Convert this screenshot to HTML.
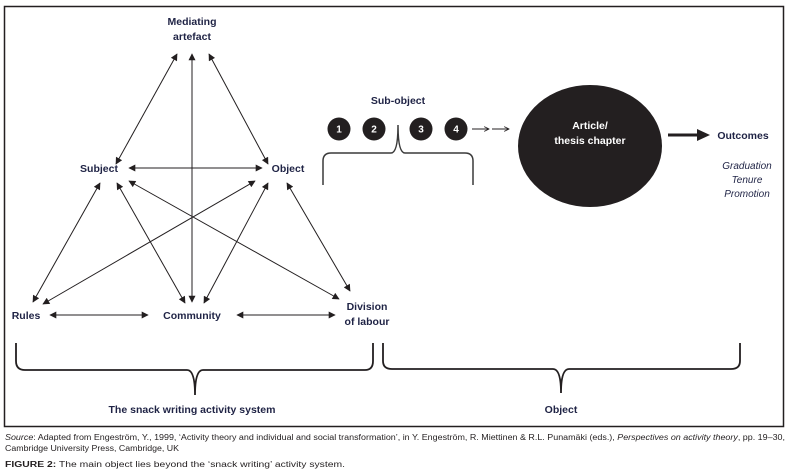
<!DOCTYPE html>
<html><head><meta charset="utf-8"><style>
html,body{margin:0;padding:0;background:#fff;}
svg{display:block;}
.l{font-family:"Liberation Sans",sans-serif;font-weight:bold;font-size:10.5px;fill:#1f2345;}
.c{font-family:"Liberation Sans",sans-serif;font-size:8px;fill:#231f20;}
</style></head><body>
<svg width="793" height="476" viewBox="0 0 793 476" xmlns="http://www.w3.org/2000/svg">
<defs>
<marker id="a" viewBox="0 0 10 10" refX="9" refY="5" markerWidth="8" markerHeight="7" markerUnits="userSpaceOnUse" orient="auto-start-reverse">
<path d="M0,0 L10,5 L0,10 z" fill="#231f20"/>
</marker>
<marker id="o" viewBox="0 0 10 10" refX="9" refY="5" markerWidth="6" markerHeight="6" markerUnits="userSpaceOnUse" orient="auto">
<path d="M1,1 L9,5 L1,9" fill="none" stroke="#231f20" stroke-width="1.4"/>
</marker>
</defs>
<rect x="4.5" y="6.5" width="779" height="420" fill="none" stroke="#231f20" stroke-width="1.5"/>

<g stroke="#231f20" stroke-width="1" fill="none" marker-start="url(#a)" marker-end="url(#a)">
<line x1="177" y1="54" x2="116" y2="164"/>
<line x1="192" y1="54" x2="192" y2="302"/>
<line x1="209" y1="54" x2="268" y2="164"/>
<line x1="129" y1="168" x2="262" y2="168"/>
<line x1="33" y1="302" x2="100" y2="183"/>
<line x1="43" y1="304" x2="255" y2="181"/>
<line x1="185" y1="303" x2="117" y2="183"/>
<line x1="204" y1="303" x2="268" y2="183"/>
<line x1="339" y1="299" x2="129" y2="181"/>
<line x1="350" y1="291" x2="287" y2="183"/>
<line x1="50" y1="315" x2="148" y2="315"/>
<line x1="237" y1="315" x2="335" y2="315"/>
</g>

<text class="l" x="192" y="25" text-anchor="middle">Mediating</text>
<text class="l" x="192" y="40" text-anchor="middle">artefact</text>
<text class="l" x="99" y="172" text-anchor="middle">Subject</text>
<text class="l" x="288" y="172" text-anchor="middle">Object</text>
<text class="l" x="26" y="319" text-anchor="middle">Rules</text>
<text class="l" x="192" y="319" text-anchor="middle">Community</text>
<text class="l" x="367" y="310" text-anchor="middle">Division</text>
<text class="l" x="367" y="325" text-anchor="middle">of labour</text>

<g stroke="#231f20" stroke-width="1.8" fill="none">
<path d="M16,343 L16,361 Q16,370 25,370 L187,370 Q195,370 195,395 Q195,370 203,370 L365,370 Q373,370 373,361 L373,343"/>
<path d="M383,343 L383,361 Q383,369 392,369 L553,369 Q561,369 561,393 Q561,369 569,369 L731,369 Q740,369 740,361 L740,343"/>
</g>
<text class="l" x="192" y="413" text-anchor="middle" textLength="167" lengthAdjust="spacingAndGlyphs">The snack writing activity system</text>
<text class="l" x="561" y="413" text-anchor="middle">Object</text>

<text class="l" x="398" y="104" text-anchor="middle">Sub-object</text>
<g fill="#231f20">
<circle cx="339" cy="129" r="11.5"/>
<circle cx="374" cy="129" r="11.5"/>
<circle cx="421" cy="129" r="11.5"/>
<circle cx="456" cy="129" r="11.5"/>
</g>
<g font-family="Liberation Sans, sans-serif" font-weight="bold" font-size="10" fill="#fff" text-anchor="middle">
<text x="339" y="132.5">1</text>
<text x="374" y="132.5">2</text>
<text x="421" y="132.5">3</text>
<text x="456" y="132.5">4</text>
</g>
<path d="M323,185 L323,161 Q323,153 331,153 L391,153 Q398,153 398,125 Q398,153 405,153 L465,153 Q473,153 473,161 L473,185" stroke="#3a3a3a" stroke-width="1.5" fill="none"/>
<g stroke="#231f20" stroke-width="1" marker-end="url(#o)">
<line x1="472" y1="129" x2="489" y2="129"/>
<line x1="492" y1="129" x2="509" y2="129"/>
</g>

<ellipse cx="590" cy="146" rx="72" ry="61" fill="#231f20"/>
<text class="l" x="590" y="129" text-anchor="middle" style="fill:#fff">Article/</text>
<text class="l" x="590" y="144" text-anchor="middle" style="fill:#fff">thesis chapter</text>

<line x1="668" y1="135" x2="699" y2="135" stroke="#231f20" stroke-width="3"/>
<path d="M697,129 L710,135 L697,141 z" fill="#231f20"/>
<text class="l" x="743" y="139" text-anchor="middle">Outcomes</text>
<g font-family="Liberation Sans, sans-serif" font-style="italic" font-size="10" fill="#1f2345" text-anchor="middle">
<text x="747" y="169">Graduation</text>
<text x="747" y="183">Tenure</text>
<text x="747" y="197">Promotion</text>
</g>

<text class="c" x="5" y="440" textLength="780" lengthAdjust="spacingAndGlyphs"><tspan font-style="italic">Source</tspan>: Adapted from Engeström, Y., 1999, ‘Activity theory and individual and social transformation’, in Y. Engeström, R. Miettinen &amp; R.L. Punamäki (eds.), <tspan font-style="italic">Perspectives on activity theory</tspan>, pp. 19–30,</text>
<text class="c" x="5" y="451" textLength="174" lengthAdjust="spacingAndGlyphs">Cambridge University Press, Cambridge, UK</text>
<text class="c" x="5" y="467" font-size="9" textLength="340" lengthAdjust="spacingAndGlyphs"><tspan font-weight="bold">FIGURE 2:</tspan> The main object lies beyond the ‘snack writing’ activity system.</text>
</svg>
</body></html>
